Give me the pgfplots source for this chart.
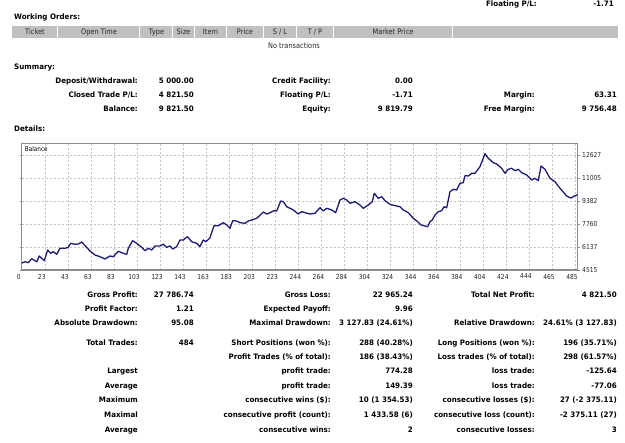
\documentclass[border=0pt]{standalone}
\usepackage{fontspec}
\setmainfont{DejaVu Sans}[FakeStretch=0.88]
\newfontfamily\bstat{DejaVu Sans}[FakeStretch=0.95]
\usepackage{pgfplots}
\pgfplotsset{compat=1.18}
\definecolor{linecol}{RGB}{26,26,120}
\definecolor{hdrgray}{RGB}{192,192,192}
\definecolor{framegray}{RGB}{140,140,140}
\definecolor{gridgray}{RGB}{195,195,195}
\newcommand{\tr}[3]{\node[anchor=mid east,inner sep=0pt] at (#1,-#2) {#3};}
\newcommand{\tl}[3]{\node[anchor=mid west,inner sep=0pt] at (#1,-#2) {#3};}
\newcommand{\tc}[3]{\node[anchor=mid,inner sep=0pt] at (#1,-#2) {#3};}
\begin{document}
\begin{tikzpicture}[x=1pt,y=1pt]
\useasboundingbox (0,0) rectangle (625,-443);
% ---------- top ----------
\begin{scope}[font=\bstat\bfseries\fontsize{7.5}{9}\selectfont]
\tr{537}{4}{Floating P/L:}
\tr{614}{4}{-1.71}
\tl{14}{17}{Working Orders:}
\tl{14}{67}{Summary:}
\tl{14}{129}{Details:}
\end{scope}
% header bar
\fill[hdrgray] (11.7,-26) rectangle (617.7,-37.7);
\foreach \sx in {57.3,139.3,172.7,194,226.7,263.3,296.7,333.3,452.7}{
  \draw[white,line width=0.9pt] (\sx,-26) -- (\sx,-37.7);}
\begin{scope}[font=\fontsize{7.5}{9}\selectfont, text=black!85]
\tc{35}{32}{Ticket}
\tc{99}{32}{Open Time}
\tc{156.5}{32}{Type}
\tc{183.5}{32}{Size}
\tc{210.5}{32}{Item}
\tc{245}{32}{Price}
\tc{280}{32}{S / L}
\tc{315}{32}{T / P}
\tc{393}{32}{Market Price}
\tc{294}{46}{No transactions}
\end{scope}
% ---------- summary ----------
\begin{scope}[font=\bstat\bfseries\fontsize{7.5}{9}\selectfont]
\tr{138}{81}{Deposit/Withdrawal:} \tr{194}{81}{5 000.00}
\tr{331}{81}{Credit Facility:} \tr{413}{81}{0.00}
\tr{138}{95}{Closed Trade P/L:} \tr{194}{95}{4 821.50}
\tr{331}{95}{Floating P/L:} \tr{413}{95}{-1.71}
\tr{535}{95}{Margin:} \tr{617}{95}{63.31}
\tr{138}{109}{Balance:} \tr{194}{109}{9 821.50}
\tr{331}{109}{Equity:} \tr{413}{109}{9 819.79}
\tr{535}{109}{Free Margin:} \tr{617}{109}{9 756.48}
% ---------- details ----------
\tr{138}{295}{Gross Profit:} \tr{194}{295}{27 786.74}
\tr{331}{295}{Gross Loss:} \tr{413}{295}{22 965.24}
\tr{535}{295}{Total Net Profit:} \tr{617}{295}{4 821.50}
\tr{138}{309}{Profit Factor:} \tr{194}{309}{1.21}
\tr{331}{309}{Expected Payoff:} \tr{413}{309}{9.96}
\tr{138}{323}{Absolute Drawdown:} \tr{194}{323}{95.08}
\tr{331}{323}{Maximal Drawdown:} \tr{413}{323}{3 127.83 (24.61\%)}
\tr{535}{323}{Relative Drawdown:} \tr{617}{323}{24.61\% (3 127.83)}
\tr{138}{343}{Total Trades:} \tr{194}{343}{484}
\tr{331}{343}{Short Positions (won \%):} \tr{413}{343}{288 (40.28\%)}
\tr{535}{343}{Long Positions (won \%):} \tr{617}{343}{196 (35.71\%)}
\tr{331}{357}{Profit Trades (\% of total):} \tr{413}{357}{186 (38.43\%)}
\tr{535}{357}{Loss trades (\% of total):} \tr{617}{357}{298 (61.57\%)}
\tr{138}{371}{Largest} \tr{331}{371}{profit trade:} \tr{413}{371}{774.28}
\tr{535}{371}{loss trade:} \tr{617}{371}{-125.64}
\tr{138}{386}{Average} \tr{331}{386}{profit trade:} \tr{413}{386}{149.39}
\tr{535}{386}{loss trade:} \tr{617}{386}{-77.06}
\tr{138}{400}{Maximum} \tr{331}{400}{consecutive wins (\$):} \tr{413}{400}{10 (1 354.53)}
\tr{535}{400}{consecutive losses (\$):} \tr{617}{400}{27 (-2 375.11)}
\tr{138}{415}{Maximal} \tr{331}{415}{consecutive profit (count):} \tr{413}{415}{1 433.58 (6)}
\tr{535}{415}{consecutive loss (count):} \tr{617}{415}{-2 375.11 (27)}
\tr{138}{430}{Average} \tr{331}{430}{consecutive wins:} \tr{413}{430}{2}
\tr{535}{430}{consecutive losses:} \tr{617}{430}{3}
\end{scope}
% ---------- chart ----------
\begin{axis}[
  at={(21.7pt,-270pt)}, anchor=south west,
  scale only axis, width=556pt, height=126.7pt,
  xmin=0, xmax=484, ymin=4515, ymax=13452,
  axis line style={framegray, line width=1.2pt},
  grid=major,
  major grid style={gridgray, line width=0.5pt, dash pattern=on 2pt off 2pt},
  xtick={0,20.07,40.14,60.21,80.28,100.35,120.42,140.49,160.56,180.63,200.7,220.77,240.84,260.91,280.98,301.05,321.12,341.19,361.26,381.33,401.4,421.47,441.54,461.61,481.68},
  xticklabels={0,23,43,63,83,103,123,143,163,183,203,223,244,264,284,304,324,344,364,384,404,424,444,465,485},
  ytick={4515,6137.4,7759.8,9382.2,11004.6,12627},
  yticklabels={4515,6137,7760,9382,11005,12627},
  scaled y ticks=false, scaled x ticks=false,
  yticklabel pos=right,
  tick align=outside,
  xtick style={draw=none},
  ytick style={framegray, line width=0.5pt},
  major tick length=2pt,
  ticklabel style={font=\fontsize{6.8}{8}\selectfont, text=black!85},
  xticklabel style={yshift=1.5pt, xshift=-3pt},
  yticklabel style={xshift=-1pt},
  clip=true,
]
\addplot[linecol, line width=1.3pt, line join=round] coordinates {
(0,5000) (2.9,5100) (5.7,5030) (8.7,5312) (11.6,5171) (13.1,5100) (15.3,5503) (17.4,5340)
(19.7,5171) (22.6,5926) (25.2,5693) (27.5,5806) (30.5,5622) (33.3,6046) (37.7,6046) (40.6,6116)
(42.7,6398) (46.4,6328) (49.3,6349) (52.2,6490) (56,6159) (59.5,5855) (63.8,5573) (68.2,5453)
(72.5,5291) (76.9,5503) (79.7,5453) (84.1,5834) (88.4,5693) (91.4,5622) (92.8,6046) (96.6,6582)
(100.1,6398) (104.5,6116) (107.3,5876) (110.2,6046) (113.2,5926) (116,6208) (120.4,6208) (123.3,6328)
(126.2,6116) (129.1,6208) (131.5,5996) (134.9,6159) (137.8,6631) (140.7,6631) (144.2,6864) (148,6511)
(152.3,6398) (155.2,6159) (158.1,6631) (160.4,6511) (163.9,6793) (167.4,7640) (171.1,7640) (175.5,7852)
(178.5,7689) (181.3,7457) (183.7,7993) (187.2,7972) (190,7852) (194.4,7809) (197.3,7972) (200.2,8042)
(204.6,8162) (207.4,8374) (210.3,8606) (213.3,8465) (216.2,8557) (219.6,8698) (222,8677) (225.5,9382)
(227.8,9333) (230.7,8980) (233.6,8867) (236.4,8747) (240.8,8465) (243.7,8627) (246.6,8557) (251,8465)
(255.3,8515) (259.7,8910) (262.5,8677) (265.5,8867) (269.9,8747) (273.3,8557) (277.1,9453) (280,9573)
(282.9,9453) (285.8,9220) (290.1,9333) (294.5,9100) (297.4,8867) (301.7,9100) (305.2,9333) (306.9,9925)
(310.4,9573) (313.4,9686) (316.3,9403) (320.6,9149) (325,9051) (329.3,8980) (332.2,8747) (336.5,8557)
(340.9,8162) (344.7,7922) (347.6,7689) (351.1,7619) (353.4,7569) (355.4,7922) (357.4,8042) (359.8,8395)
(362.6,8627) (365.6,8698) (367.6,8980) (370,8910) (372.8,10038) (375.7,10208) (378.7,10158) (381.5,10631)
(384.4,10673) (385.9,11167) (388.8,11146) (391.7,11336) (394.6,11336) (398.9,11802) (403.3,12710) (406.2,12394)
(410.5,12084) (413.5,11992) (417.8,11689) (420.7,11336) (423.6,11618) (426.5,11689) (429.4,11520) (432.3,11618)
(435.2,11379) (439.6,11216) (443.9,10864) (446.8,10983) (449.7,10814) (452.1,11851) (455.5,11618) (459.9,10983)
(464.2,10744) (468.6,10278) (474.4,9735) (478.2,9582) (481,9735) (484,9821.5)
};
\node[anchor=north west, inner sep=0pt, font=\fontsize{6.5}{8}\selectfont] at (rel axis cs:0,1) [xshift=3pt,yshift=-3pt] {Balance};
\end{axis}
\end{tikzpicture}
\end{document}
